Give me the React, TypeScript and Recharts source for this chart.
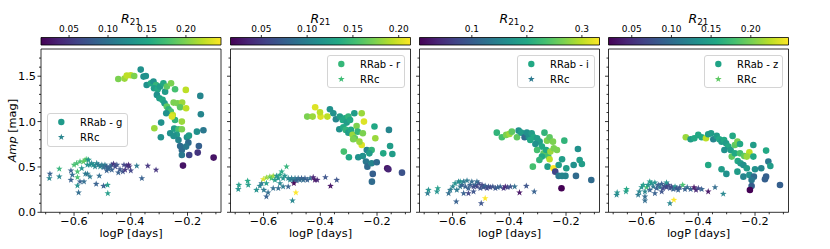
import React from 'react';
import { ScatterChart, Scatter, XAxis, YAxis, ReferenceArea, Legend } from 'recharts';

// ---------------- data ----------------
const BANDS = ['g', 'r', 'i', 'z'];
const X_MAJOR = [-0.6, -0.4, -0.2];
const X_TICKS = [-0.7, -0.65, -0.6, -0.55, -0.5, -0.45, -0.4, -0.35, -0.3, -0.25, -0.2, -0.15, -0.1];
const Y_MAJOR = [0, 0.5, 1.0, 1.5];
const Y_TICKS = [0, 0.1, 0.2, 0.3, 0.4, 0.5, 0.6, 0.7, 0.8, 0.9, 1.0, 1.1, 1.2, 1.3, 1.4, 1.5, 1.6, 1.7];
const X_DOMAIN = [-0.7165, -0.082];
const Y_DOMAIN = [0, 1.8];

const CB_RANGE = [[0.014, 0.245], [0.0163, 0.2129], [0.0049, 0.332], [0.0207, 0.2475]];
const CB_TICKS = [[0.05, 0.1, 0.15, 0.2], [0.05, 0.1, 0.15, 0.2], [0.1, 0.2, 0.3], [0.05, 0.1, 0.15, 0.2]];
const CB_LABELS = [['0.05', '0.10', '0.15', '0.20'], ['0.05', '0.10', '0.15', '0.20'], ['0.1', '0.2', '0.3'], ['0.05', '0.10', '0.15', '0.20']];

// [logP, Amp, R21]
const G_RRAB = [
  [-0.444, 1.47, 0.199], [-0.422, 1.474, 0.21], [-0.414, 1.507, 0.222], [-0.4, 1.51, 0.222], [-0.388, 1.503, 0.199],
  [-0.365, 1.573, 0.13], [-0.355, 1.496, 0.13], [-0.347, 1.503, 0.13], [-0.344, 1.404, 0.13], [-0.329, 1.422, 0.153],
  [-0.32, 1.441, 0.13], [-0.311, 1.404, 0.164], [-0.318, 1.367, 0.141], [-0.305, 1.356, 0.153], [-0.297, 1.386, 0.141],
  [-0.285, 1.422, 0.153], [-0.279, 1.33, 0.141], [-0.273, 1.386, 0.187], [-0.258, 1.422, 0.199], [-0.244, 1.356, 0.176],
  [-0.308, 1.294, 0.13], [-0.299, 1.257, 0.141], [-0.288, 1.239, 0.153], [-0.281, 1.202, 0.141], [-0.273, 1.165, 0.187],
  [-0.267, 1.136, 0.164], [-0.259, 1.11, 0.176], [-0.252, 1.073, 0.222], [-0.275, 1.092, 0.13], [-0.249, 1.209, 0.199],
  [-0.235, 1.202, 0.199], [-0.219, 1.209, 0.21], [-0.226, 1.158, 0.187], [-0.206, 1.349, 0.222], [-0.205, 1.147, 0.222],
  [-0.22, 1.0, 0.21], [-0.244, 1.018, 0.164], [-0.255, 1.055, 0.233], [-0.293, 0.989, 0.13], [-0.317, 0.926, 0.21],
  [-0.294, 0.827, 0.13], [-0.261, 0.871, 0.13], [-0.247, 0.922, 0.141], [-0.232, 0.915, 0.176], [-0.22, 0.915, 0.199],
  [-0.238, 0.853, 0.141], [-0.249, 0.842, 0.13], [-0.232, 0.797, 0.118], [-0.226, 0.731, 0.095], [-0.202, 0.827, 0.13],
  [-0.195, 0.845, 0.141], [-0.197, 0.768, 0.095], [-0.22, 0.687, 0.095], [-0.205, 0.724, 0.106], [-0.22, 0.632, 0.106],
  [-0.194, 0.632, 0.06], [-0.216, 0.515, 0.026], [-0.167, 0.889, 0.13], [-0.155, 1.283, 0.118], [-0.153, 1.08, 0.118],
  [-0.144, 0.904, 0.106], [-0.16, 0.731, 0.083], [-0.164, 0.658, 0.049], [-0.108, 0.603, 0.026],
];
const G_RRC = [
  [-0.685, 0.423, 0.083], [-0.687, 0.375, 0.118], [-0.652, 0.478, 0.164], [-0.652, 0.393, 0.118], [-0.611, 0.459, 0.083],
  [-0.611, 0.356, 0.083], [-0.606, 0.412, 0.095], [-0.6, 0.522, 0.176], [-0.591, 0.54, 0.176], [-0.588, 0.448, 0.176],
  [-0.588, 0.386, 0.176], [-0.588, 0.294, 0.13], [-0.584, 0.217, 0.095], [-0.579, 0.559, 0.176], [-0.573, 0.485, 0.13],
  [-0.567, 0.559, 0.187], [-0.561, 0.577, 0.187], [-0.555, 0.584, 0.176], [-0.553, 0.522, 0.13], [-0.549, 0.577, 0.13],
  [-0.579, 0.338, 0.083], [-0.565, 0.338, 0.095], [-0.56, 0.423, 0.106], [-0.553, 0.423, 0.106], [-0.544, 0.522, 0.13],
  [-0.538, 0.54, 0.118], [-0.532, 0.522, 0.13], [-0.526, 0.503, 0.118], [-0.52, 0.54, 0.118], [-0.514, 0.522, 0.106],
  [-0.508, 0.503, 0.118], [-0.502, 0.522, 0.106], [-0.496, 0.496, 0.095], [-0.491, 0.522, 0.106], [-0.485, 0.503, 0.083],
  [-0.479, 0.478, 0.095], [-0.473, 0.503, 0.083], [-0.467, 0.522, 0.083], [-0.461, 0.533, 0.049], [-0.455, 0.503, 0.06],
  [-0.449, 0.522, 0.072], [-0.544, 0.393, 0.106], [-0.522, 0.312, 0.083], [-0.511, 0.401, 0.095], [-0.496, 0.29, 0.083],
  [-0.485, 0.459, 0.083], [-0.481, 0.209, 0.141], [-0.482, 0.301, 0.141], [-0.467, 0.467, 0.083], [-0.444, 0.437, 0.083],
  [-0.438, 0.474, 0.072], [-0.428, 0.448, 0.072], [-0.42, 0.467, 0.049], [-0.414, 0.511, 0.049], [-0.408, 0.522, 0.037],
  [-0.405, 0.503, 0.049], [-0.4, 0.459, 0.06], [-0.424, 0.522, 0.06], [-0.379, 0.511, 0.106], [-0.34, 0.511, 0.049],
  [-0.311, 0.467, 0.049], [-0.361, 0.375, 0.083],
];
const R_RRAB = [
  [-0.418, 1.158, 0.203], [-0.446, 1.055, 0.174], [-0.427, 1.055, 0.183], [-0.399, 1.055, 0.203], [-0.375, 1.055, 0.193],
  [-0.401, 1.103, 0.193], [-0.366, 1.136, 0.115], [-0.354, 1.092, 0.115], [-0.345, 1.025, 0.105], [-0.331, 1.055, 0.124],
  [-0.321, 1.018, 0.134], [-0.313, 1.036, 0.134], [-0.307, 0.989, 0.124], [-0.301, 1.055, 0.144], [-0.295, 1.018, 0.134],
  [-0.333, 0.915, 0.115], [-0.319, 0.937, 0.134], [-0.31, 0.908, 0.144], [-0.301, 0.878, 0.124], [-0.292, 0.908, 0.134],
  [-0.286, 0.853, 0.183], [-0.278, 0.816, 0.164], [-0.28, 1.092, 0.124], [-0.254, 1.092, 0.183], [-0.246, 1.0, 0.203],
  [-0.272, 0.952, 0.174], [-0.268, 0.889, 0.144], [-0.254, 0.742, 0.203], [-0.262, 0.779, 0.183], [-0.284, 0.805, 0.174],
  [-0.25, 0.871, 0.174], [-0.209, 0.945, 0.134], [-0.206, 0.816, 0.183], [-0.236, 0.687, 0.105], [-0.219, 0.687, 0.144],
  [-0.178, 0.65, 0.134], [-0.266, 0.606, 0.115], [-0.25, 0.621, 0.115], [-0.299, 0.606, 0.134], [-0.317, 0.669, 0.154],
  [-0.239, 0.559, 0.095], [-0.234, 0.503, 0.085], [-0.219, 0.54, 0.105], [-0.201, 0.551, 0.085], [-0.215, 0.423, 0.075],
  [-0.218, 0.338, 0.085], [-0.164, 0.485, 0.026], [-0.16, 0.474, 0.036], [-0.154, 0.731, 0.124], [-0.146, 0.643, 0.124],
  [-0.158, 0.908, 0.105], [-0.112, 0.437, 0.066], [-0.227, 0.65, 0.124],
];
const R_RRC = [
  [-0.689, 0.254, 0.115], [-0.687, 0.301, 0.124], [-0.656, 0.345, 0.134], [-0.654, 0.301, 0.124], [-0.613, 0.29, 0.105],
  [-0.607, 0.32, 0.095], [-0.601, 0.364, 0.203], [-0.599, 0.246, 0.095], [-0.59, 0.382, 0.183], [-0.59, 0.173, 0.075],
  [-0.584, 0.217, 0.085], [-0.578, 0.393, 0.174], [-0.572, 0.375, 0.154], [-0.566, 0.401, 0.183], [-0.56, 0.356, 0.124],
  [-0.554, 0.401, 0.115], [-0.548, 0.375, 0.115], [-0.542, 0.412, 0.134], [-0.536, 0.448, 0.134], [-0.531, 0.375, 0.115],
  [-0.525, 0.401, 0.115], [-0.519, 0.503, 0.144], [-0.513, 0.375, 0.105], [-0.507, 0.356, 0.105], [-0.501, 0.375, 0.095],
  [-0.495, 0.349, 0.095], [-0.489, 0.375, 0.095], [-0.484, 0.349, 0.075], [-0.478, 0.375, 0.085], [-0.472, 0.356, 0.085],
  [-0.466, 0.375, 0.075], [-0.46, 0.356, 0.085], [-0.454, 0.375, 0.075], [-0.446, 0.356, 0.075], [-0.436, 0.375, 0.085],
  [-0.425, 0.386, 0.036], [-0.419, 0.356, 0.026], [-0.411, 0.356, 0.036], [-0.566, 0.265, 0.085], [-0.548, 0.265, 0.085],
  [-0.531, 0.283, 0.095], [-0.513, 0.283, 0.075], [-0.542, 0.32, 0.105], [-0.498, 0.129, 0.105], [-0.486, 0.217, 0.213],
  [-0.493, 0.32, 0.016], [-0.382, 0.386, 0.066], [-0.364, 0.29, 0.026], [-0.342, 0.356, 0.066], [-0.59, 0.32, 0.124],
  [-0.625, 0.246, 0.115],
];
const I_RRAB = [
  [-0.444, 0.878, 0.217], [-0.426, 0.827, 0.234], [-0.411, 0.853, 0.267], [-0.399, 0.864, 0.283], [-0.391, 0.889, 0.25],
  [-0.373, 0.827, 0.25], [-0.367, 0.9, 0.168], [-0.358, 0.878, 0.185], [-0.346, 0.827, 0.119], [-0.338, 0.878, 0.168],
  [-0.331, 0.827, 0.168], [-0.321, 0.871, 0.185], [-0.314, 0.827, 0.201], [-0.302, 0.816, 0.185], [-0.293, 0.779, 0.185],
  [-0.308, 0.753, 0.168], [-0.285, 0.724, 0.201], [-0.276, 0.878, 0.217], [-0.267, 0.79, 0.267], [-0.258, 0.827, 0.25],
  [-0.246, 0.779, 0.267], [-0.279, 0.65, 0.25], [-0.27, 0.687, 0.201], [-0.263, 0.621, 0.234], [-0.255, 0.669, 0.283],
  [-0.243, 0.706, 0.267], [-0.232, 0.687, 0.267], [-0.258, 0.584, 0.299], [-0.285, 0.614, 0.201], [-0.294, 0.577, 0.217],
  [-0.317, 0.503, 0.234], [-0.265, 0.503, 0.185], [-0.244, 0.485, 0.332], [-0.238, 0.448, 0.07], [-0.226, 0.522, 0.185],
  [-0.214, 0.584, 0.185], [-0.206, 0.79, 0.217], [-0.199, 0.485, 0.185], [-0.202, 0.401, 0.152], [-0.226, 0.401, 0.136],
  [-0.214, 0.401, 0.152], [-0.165, 0.401, 0.119], [-0.216, 0.265, 0.005], [-0.173, 0.522, 0.168], [-0.158, 0.698, 0.168],
  [-0.152, 0.577, 0.185], [-0.144, 0.533, 0.185], [-0.111, 0.356, 0.119], [-0.302, 0.687, 0.234], [-0.326, 0.797, 0.201],
];
const I_RRC = [
  [-0.688, 0.209, 0.136], [-0.685, 0.246, 0.168], [-0.655, 0.228, 0.168], [-0.652, 0.265, 0.185], [-0.614, 0.209, 0.119],
  [-0.608, 0.246, 0.136], [-0.599, 0.283, 0.152], [-0.591, 0.32, 0.168], [-0.585, 0.246, 0.136], [-0.587, 0.118, 0.103],
  [-0.579, 0.338, 0.152], [-0.573, 0.283, 0.136], [-0.567, 0.301, 0.103], [-0.561, 0.338, 0.136], [-0.555, 0.283, 0.103],
  [-0.549, 0.349, 0.136], [-0.544, 0.265, 0.103], [-0.538, 0.301, 0.103], [-0.532, 0.338, 0.119], [-0.526, 0.283, 0.07],
  [-0.52, 0.301, 0.103], [-0.514, 0.283, 0.07], [-0.508, 0.32, 0.07], [-0.502, 0.265, 0.087], [-0.496, 0.301, 0.07],
  [-0.491, 0.276, 0.087], [-0.485, 0.29, 0.103], [-0.479, 0.265, 0.07], [-0.473, 0.283, 0.087], [-0.467, 0.276, 0.07],
  [-0.458, 0.283, 0.087], [-0.449, 0.265, 0.087], [-0.441, 0.276, 0.103], [-0.432, 0.283, 0.103], [-0.42, 0.265, 0.054],
  [-0.414, 0.283, 0.038], [-0.406, 0.276, 0.07], [-0.396, 0.283, 0.087], [-0.381, 0.283, 0.119], [-0.364, 0.217, 0.021],
  [-0.34, 0.29, 0.087], [-0.312, 0.228, 0.103], [-0.499, 0.099, 0.087], [-0.485, 0.154, 0.332], [-0.561, 0.209, 0.103],
  [-0.544, 0.209, 0.07], [-0.526, 0.228, 0.087], [-0.573, 0.338, 0.168], [-0.514, 0.338, 0.119],
];
const Z_RRAB = [
  [-0.444, 0.827, 0.213], [-0.427, 0.805, 0.145], [-0.414, 0.816, 0.157], [-0.4, 0.853, 0.157], [-0.388, 0.827, 0.157],
  [-0.373, 0.816, 0.225], [-0.365, 0.86, 0.145], [-0.355, 0.871, 0.145], [-0.347, 0.805, 0.123], [-0.335, 0.842, 0.145],
  [-0.326, 0.805, 0.157], [-0.318, 0.779, 0.145], [-0.309, 0.797, 0.157], [-0.302, 0.761, 0.145], [-0.294, 0.724, 0.157],
  [-0.308, 0.687, 0.134], [-0.286, 0.687, 0.145], [-0.279, 0.842, 0.157], [-0.271, 0.742, 0.191], [-0.262, 0.779, 0.202],
  [-0.253, 0.753, 0.157], [-0.282, 0.614, 0.191], [-0.271, 0.65, 0.157], [-0.261, 0.566, 0.157], [-0.253, 0.65, 0.179],
  [-0.238, 0.621, 0.191], [-0.22, 0.661, 0.225], [-0.229, 0.614, 0.213], [-0.251, 0.54, 0.145], [-0.241, 0.522, 0.134],
  [-0.262, 0.448, 0.145], [-0.318, 0.474, 0.145], [-0.301, 0.423, 0.134], [-0.229, 0.485, 0.145], [-0.206, 0.614, 0.157],
  [-0.206, 0.742, 0.145], [-0.2, 0.474, 0.134], [-0.178, 0.485, 0.123], [-0.161, 0.68, 0.157], [-0.153, 0.559, 0.111],
  [-0.146, 0.511, 0.145], [-0.241, 0.393, 0.123], [-0.22, 0.412, 0.134], [-0.204, 0.393, 0.1], [-0.212, 0.356, 0.111],
  [-0.165, 0.364, 0.089], [-0.161, 0.393, 0.089], [-0.212, 0.29, 0.089], [-0.218, 0.246, 0.021], [-0.112, 0.301, 0.089],
  [-0.365, 0.522, 0.157],
];
const Z_RRC = [
  [-0.688, 0.191, 0.123], [-0.686, 0.217, 0.134], [-0.655, 0.228, 0.145], [-0.653, 0.254, 0.157], [-0.612, 0.191, 0.111],
  [-0.608, 0.228, 0.123], [-0.6, 0.276, 0.134], [-0.594, 0.301, 0.145], [-0.588, 0.173, 0.1], [-0.588, 0.228, 0.123],
  [-0.582, 0.276, 0.179], [-0.577, 0.301, 0.134], [-0.571, 0.246, 0.089], [-0.565, 0.32, 0.134], [-0.559, 0.283, 0.111],
  [-0.553, 0.327, 0.134], [-0.547, 0.265, 0.089], [-0.541, 0.301, 0.089], [-0.535, 0.276, 0.111], [-0.529, 0.312, 0.089],
  [-0.524, 0.265, 0.066], [-0.518, 0.29, 0.077], [-0.512, 0.276, 0.066], [-0.506, 0.301, 0.066], [-0.5, 0.265, 0.077],
  [-0.494, 0.283, 0.066], [-0.488, 0.254, 0.089], [-0.482, 0.283, 0.134], [-0.476, 0.265, 0.077], [-0.471, 0.246, 0.089],
  [-0.465, 0.276, 0.077], [-0.455, 0.301, 0.179], [-0.447, 0.254, 0.089], [-0.439, 0.276, 0.1], [-0.427, 0.254, 0.089],
  [-0.415, 0.276, 0.032], [-0.408, 0.246, 0.043], [-0.4, 0.265, 0.066], [-0.388, 0.254, 0.089], [-0.365, 0.228, 0.032],
  [-0.341, 0.276, 0.1], [-0.312, 0.202, 0.123], [-0.5, 0.099, 0.123], [-0.486, 0.136, 0.248], [-0.588, 0.129, 0.1],
  [-0.553, 0.209, 0.089], [-0.529, 0.228, 0.077], [-0.571, 0.338, 0.145], [-0.512, 0.327, 0.134],
];

const RRAB_SETS = [G_RRAB, R_RRAB, I_RRAB, Z_RRAB];
const RRC_SETS = [G_RRC, R_RRC, I_RRC, Z_RRC];

// ---------------- styling ----------------
const W = 830;
const H = 249;
const FONT = '"DejaVu Sans", sans-serif';
const PANEL_LEFT = [41, 230.5, 419.5, 608.5];
const PLOT_W = 180;
const PLOT_TOP = 49;
const PLOT_BOTTOM = 212.3;
const XAXIS_H = 30;
const YAXIS_W = 30;
const CB_TOP = 37.5;
const CB_BOTTOM = 45;
const CB_AXIS_H = 20;
const LEGEND_COLORS = [['#1f9a8a', '#2a858e'], ['#35b779', '#3dbc74'], ['#22a884', '#2a788e'], ['#20a386', '#5ec962']];
const LEGEND_BOX = [
  { left: 46.7, top: 113.3, w: 81, h: 34 },
  { left: 230.5 + 96, top: 55, w: 78, h: 33.3 },
  { left: 419.5 + 97, top: 55, w: 78, h: 33.3 },
  { left: 608.5 + 95, top: 55, w: 79, h: 33.3 },
];
const VIRIDIS = ['#440154', '#482475', '#414487', '#355f8d', '#2a788e', '#21918c', '#22a884', '#44bf70', '#7ad151', '#bddf26', '#fde725'];

function hexToRgb(h: string) {
  return [parseInt(h.slice(1, 3), 16), parseInt(h.slice(3, 5), 16), parseInt(h.slice(5, 7), 16)];
}
function viridis(t: number) {
  const tt = Math.max(0, Math.min(1, t)) * 10;
  const i = Math.min(9, Math.floor(tt));
  const f = tt - i;
  const a = hexToRgb(VIRIDIS[i]);
  const b = hexToRgb(VIRIDIS[i + 1]);
  const c = a.map((v, k) => Math.round(v + (b[k] - v) * f));
  return `rgb(${c[0]},${c[1]},${c[2]})`;
}
function starPoints(cx: number, cy: number, R: number) {
  const r = R * 0.4;
  const pts: string[] = [];
  for (let k = 0; k < 10; k++) {
    const ang = -Math.PI / 2 + (k * Math.PI) / 5;
    const rad = k % 2 === 0 ? R : r;
    pts.push(`${(cx + rad * Math.cos(ang)).toFixed(2)},${(cy + rad * Math.sin(ang)).toFixed(2)}`);
  }
  return pts.join(' ');
}
const near = (a: number, b: number) => Math.abs(a - b) < 1e-6;
const fmtX = (v: number) => v.toFixed(1).replace('-', '\u2212');

const XTick = (p: any) => {
  const v = p.payload.value;
  const major = X_MAJOR.some((m) => near(m, v));
  return (
    <g>
      <line x1={p.x} x2={p.x} y1={p.y} y2={p.y + (major ? 3.5 : 2)} stroke="#000" strokeWidth={0.8} />
      {major && (
        <text x={p.x} y={p.y + 13} textAnchor="middle" fontSize={11.3} fontFamily={FONT} fill="#000">
          {fmtX(v)}
        </text>
      )}
    </g>
  );
};
const makeYTick = (showLabel: boolean) => (p: any) => {
  const v = p.payload.value;
  const major = Y_MAJOR.some((m) => near(m, v));
  return (
    <g>
      <line x1={p.x} x2={p.x - (major ? 3.5 : 2)} y1={p.y} y2={p.y} stroke="#000" strokeWidth={0.8} />
      {major && showLabel && (
        <text x={p.x - 5} y={p.y + 4.1} textAnchor="end" fontSize={11.3} fontFamily={FONT} fill="#000">
          {v.toFixed(1)}
        </text>
      )}
    </g>
  );
};
const makeCbTick = (labels: string[], ticks: number[]) => (p: any) => {
  const v = p.payload.value;
  const idx = ticks.findIndex((t) => near(t, v));
  return (
    <g>
      <line x1={p.x} x2={p.x} y1={p.y} y2={p.y - 2.5} stroke="#000" strokeWidth={0.8} />
      <text x={p.x} y={p.y - 5.8} textAnchor="middle" fontSize={9} fontFamily={FONT} fill="#000">
        {idx >= 0 ? labels[idx] : ''}
      </text>
    </g>
  );
};

const XTitle = ({ midX }: any) => (
  <text x={midX} y={PLOT_BOTTOM + 24.3} textAnchor="middle" fontSize={11.3} fontFamily={FONT} fill="#000">
    logP [days]
  </text>
);
const YTitle = () => (
  <text
    transform={`translate(15.5, ${(PLOT_TOP + PLOT_BOTTOM) / 2}) rotate(-90)`}
    textAnchor="middle"
    fontSize={11.3}
    fontFamily={FONT}
    fill="#000"
  >
    <tspan fontStyle="italic">Amp</tspan> [mag]
  </text>
);
const CbTitle = ({ midX }: any) => (
  <text x={midX} y={22.7} textAnchor="middle" fontFamily={FONT} fill="#000">
    <tspan fontStyle="italic" fontSize={12.5}>R</tspan>
    <tspan fontSize={8.8} dy={2.6}>21</tspan>
  </text>
);

const LegendBox = ({ band, w, h, cAb, cC }: any) => (
  <div
    style={{
      width: w,
      height: h,
      boxSizing: 'border-box',
      border: '1px solid #d4d4d4',
      borderRadius: 3,
      background: 'rgba(255,255,255,0.85)',
      position: 'relative',
    }}
  >
    <svg width={w} height={h} style={{ position: 'absolute', left: -1, top: -1, overflow: 'visible' }}>
      <circle cx={14.3} cy={9} r={3.2} fill={cAb} />
      <polygon points={starPoints(14.3, 24.2, 3.5)} fill={cC} />
      <text x={33} y={12.6} fontSize={10} fontFamily={FONT} fill="#000">{`RRab - ${band}`}</text>
      <text x={33} y={27.8} fontSize={10} fontFamily={FONT} fill="#000">RRc</text>
    </svg>
  </div>
);

const toPts = (rows: number[][]) => rows.map(([x, y, r]) => ({ x, y, r }));

function Panel({ i }: { i: number }) {
  const L = PANEL_LEFT[i];
  const [vmin, vmax] = CB_RANGE[i];
  const ab = toPts(RRAB_SETS[i]);
  const c = toPts(RRC_SETS[i]);
  const lb = LEGEND_BOX[i];
  const circleShape = (p: any) => (
    <circle cx={p.cx} cy={p.cy} r={3.3} fill={viridis((p.payload.r - vmin) / (vmax - vmin))} />
  );
  const starShape = (p: any) => (
    <polygon points={starPoints(p.cx, p.cy, 3.5)} fill={viridis((p.payload.r - vmin) / (vmax - vmin))} fillOpacity={0.95} />
  );
  return (
    <div style={{ position: 'absolute', left: 0, top: 0 }}>
      <ScatterChart
        width={W}
        height={H}
        margin={{ top: PLOT_TOP, bottom: H - PLOT_BOTTOM - XAXIS_H, left: L - YAXIS_W, right: W - L - PLOT_W }}
      >
        <XAxis
          type="number"
          dataKey="x"
          domain={X_DOMAIN}
          allowDataOverflow
          ticks={X_TICKS}
          interval={0}
          height={XAXIS_H}
          axisLine={false}
          tickLine={false}
          tickSize={0}
          tickMargin={0}
          tick={XTick}
          label={<XTitle midX={L + PLOT_W / 2} />}
        />
        <YAxis
          type="number"
          dataKey="y"
          domain={Y_DOMAIN}
          allowDataOverflow
          ticks={Y_TICKS}
          interval={0}
          width={YAXIS_W}
          axisLine={false}
          tickLine={false}
          tickSize={0}
          tickMargin={0}
          tick={makeYTick(i === 0)}
          label={i === 0 ? <YTitle /> : undefined}
        />
        <ReferenceArea
          x1={X_DOMAIN[0]}
          x2={X_DOMAIN[1]}
          y1={Y_DOMAIN[0]}
          y2={Y_DOMAIN[1]}
          fill="none"
          fillOpacity={0}
          stroke="#000"
          strokeWidth={0.8}
          ifOverflow="visible"
        />
        <Scatter data={ab} shape={circleShape} isAnimationActive={false} />
        <Scatter data={c} shape={starShape} isAnimationActive={false} />
        <Legend
          layout="vertical"
          align="center"
          verticalAlign="middle"
          wrapperStyle={{ left: lb.left, top: lb.top, width: lb.w, height: lb.h }}
          content={() => (
            <LegendBox band={BANDS[i]} w={lb.w} h={lb.h} cAb={LEGEND_COLORS[i][0]} cC={LEGEND_COLORS[i][1]} />
          )}
        />
      </ScatterChart>
    </div>
  );
}

function ColorBar({ i }: { i: number }) {
  const L = PANEL_LEFT[i];
  const [vmin, vmax] = CB_RANGE[i];
  const gid = `viridis-grad-${i}`;
  return (
    <div style={{ position: 'absolute', left: 0, top: 0 }}>
      <ScatterChart
        width={W}
        height={H}
        margin={{ top: CB_TOP - CB_AXIS_H, bottom: H - CB_BOTTOM, left: L, right: W - L - PLOT_W }}
      >
        <defs>
          <linearGradient id={gid} x1="0" y1="0" x2="1" y2="0">
            {VIRIDIS.map((col, k) => (
              <stop key={k} offset={k / 10} stopColor={col} />
            ))}
          </linearGradient>
        </defs>
        <XAxis
          xAxisId="cb"
          orientation="top"
          type="number"
          dataKey="x"
          domain={[vmin, vmax]}
          allowDataOverflow
          ticks={CB_TICKS[i]}
          interval={0}
          height={CB_AXIS_H}
          axisLine={false}
          tickLine={false}
          tickSize={0}
          tickMargin={0}
          tick={makeCbTick(CB_LABELS[i], CB_TICKS[i])}
          label={<CbTitle midX={L + PLOT_W / 2} />}
        />
        <YAxis yAxisId="cb" hide type="number" dataKey="y" domain={[0, 1]} allowDataOverflow />
        <ReferenceArea
          xAxisId="cb"
          yAxisId="cb"
          x1={vmin}
          x2={vmax}
          y1={0}
          y2={1}
          fill={`url(#${gid})`}
          fillOpacity={1}
          stroke="#000"
          strokeWidth={0.8}
          ifOverflow="visible"
        />
        <Scatter xAxisId="cb" yAxisId="cb" data={[]} isAnimationActive={false} />
      </ScatterChart>
    </div>
  );
}

export default function App() {
  return (
    <div style={{ position: 'absolute', left: 0, top: 0, width: W, height: H, background: '#fff', overflow: 'hidden' }}>
      {[0, 1, 2, 3].map((i) => (
        <ColorBar key={`cb${i}`} i={i} />
      ))}
      {[0, 1, 2, 3].map((i) => (
        <Panel key={`p${i}`} i={i} />
      ))}
    </div>
  );
}
